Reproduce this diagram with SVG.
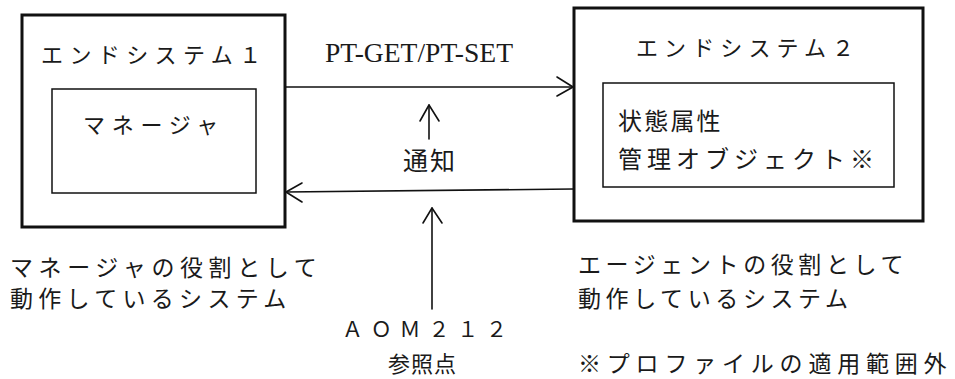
<svg xmlns="http://www.w3.org/2000/svg" width="955" height="379" viewBox="0 0 955 379">
<style>
.outer{fill:none;stroke:#111;stroke-width:3}
.inner{fill:none;stroke:#111;stroke-width:1.5}
.ln{fill:none;stroke:#111;stroke-width:1.6;stroke-linecap:round;stroke-linejoin:round}
.jp{font-family:"Noto Sans CJK JP","Noto Sans",sans-serif;fill:#1a1a1a;font-weight:400}
.lat{font-family:"Liberation Serif",serif;fill:#1a1a1a}
</style>
<rect width="955" height="379" fill="#fff"/>
<g id="endsystem1">
<rect class="outer" x="22" y="15" width="263" height="212"/>
<text class="jp" x="41" y="63" font-size="22" letter-spacing="6.4">エンドシステム１</text>
<g id="manager">
<rect class="inner" x="52" y="89" width="204" height="104"/>
<text class="jp" x="83" y="133" font-size="22" letter-spacing="6.7">マネージャ</text>
</g>
</g>
<g id="endsystem2">
<rect class="outer" x="574" y="8" width="349" height="213"/>
<text class="jp" x="636" y="56" font-size="22" letter-spacing="6.1">エンドシステム２</text>
<g id="object">
<rect class="inner" x="603" y="83" width="291" height="104"/>
<text class="jp" x="618" y="130" font-size="24" letter-spacing="2.2">状態属性</text>
<text class="jp" x="618" y="168" font-size="24" letter-spacing="5">管理オブジェクト※</text>
</g>
</g>
<g id="connectors">
<line class="ln" x1="285" y1="87" x2="573" y2="87"/>
<polyline class="ln" points="557,77 573,87 557,96"/>
<line class="ln" x1="573" y1="189" x2="286" y2="192"/>
<polyline class="ln" points="302,183 286,192 302,202"/>
<line class="ln" x1="429" y1="139" x2="429" y2="105"/>
<polyline class="ln" points="420,121 429,105 439,121"/>
<line class="ln" x1="432" y1="309" x2="432" y2="208"/>
<polyline class="ln" points="423,223 432,208 442,223"/>
</g>
<g id="labels">
<text class="lat" x="325" y="62" font-size="27" textLength="188" lengthAdjust="spacingAndGlyphs">PT-GET/PT-SET</text>
<text class="jp" x="403" y="170" font-size="25" letter-spacing="2">通知</text>
<text class="jp" x="342" y="337" font-size="21" letter-spacing="7.8">ＡＯＭ２１２</text>
<text class="jp" x="388" y="372" font-size="22" letter-spacing="1">参照点</text>
<text class="jp" x="10" y="276" font-size="23" letter-spacing="5.6">マネージャの役割として</text>
<text class="jp" x="10" y="307" font-size="23" letter-spacing="5.3">動作しているシステム</text>
<text class="jp" x="578" y="273" font-size="23" letter-spacing="4.6">エージェントの役割として</text>
<text class="jp" x="578" y="307" font-size="23" letter-spacing="4.6">動作しているシステム</text>
<text class="jp" x="578" y="372" font-size="23" letter-spacing="5.8">※プロファイルの適用範囲外</text>
</g>
</svg>
